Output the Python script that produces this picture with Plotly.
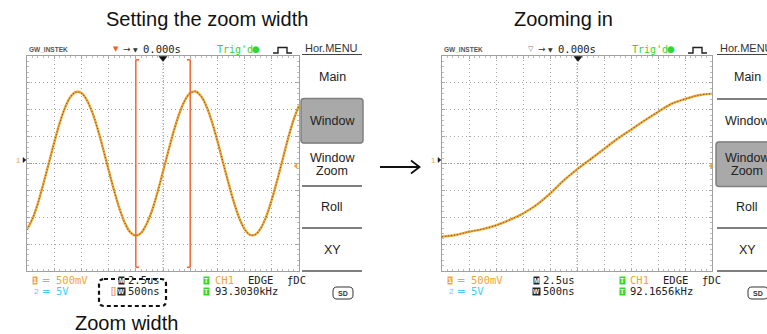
import plotly.graph_objects as go

# ---------------- data ----------------
# Main (un-zoomed) acquisition: 2.5 us/div, 500 mV/div
main_t_us = [-12.5, -12.0, -11.5, -11.0, -10.5, -10.0, -9.5, -9.0, -8.5, -8.0,
             -7.5, -7.0, -6.5, -6.0, -5.5, -5.0, -4.5, -4.0, -3.5, -3.0,
             -2.5, -2.0, -1.5, -1.0, -0.5, 0.0, 0.5, 1.0, 1.5, 2.0,
             2.5, 3.0, 3.5, 4.0, 4.5, 5.0, 5.5, 6.0, 6.5, 7.0,
             7.5, 8.0, 8.5, 9.0, 9.5, 10.0, 10.5, 11.0, 11.5, 12.0, 12.5]
main_v = [-1.23, -1.03, -0.74, -0.38, 0.00, 0.39, 0.75, 1.04, 1.24, 1.33,
          1.31, 1.18, 0.95, 0.64, 0.27, -0.12, -0.50, -0.84, -1.11, -1.28,
          -1.34, -1.29, -1.12, -0.87, -0.53, -0.15, 0.24, 0.61, 0.93, 1.17,
          1.31, 1.34, 1.25, 1.06, 0.77, 0.42, 0.03, -0.35, -0.71, -1.01,
          -1.22, -1.33, -1.32, -1.20, -0.98, -0.67, -0.31, 0.08, 0.47, 0.81, 1.08]

# Zoom window (500 ns/div)
zoom_t_ns = [-2500, -2250, -2000, -1750, -1500, -1250, -1000, -750, -500, -250, 0,
             250, 500, 750, 1000, 1250, 1500, 1750, 2000, 2250, 2500]
zoom_v = [-1.36, -1.33, -1.27, -1.22, -1.15, -1.05, -0.93, -0.77, -0.56, -0.32, -0.11,
          0.08, 0.27, 0.46, 0.63, 0.80, 0.96, 1.11, 1.20, 1.27, 1.30]

window_us = [-2.5, 2.5]          # zoom window bracket positions on main trace

titles = ["Setting the zoom width", "Zooming in"]
menu_items = ["Main", "Window", "Window|Zoom", "Roll", "XY"]
ch1_scale = "500mV"
ch2_scale = "5V"
main_timebase = "2.5us"
window_timebase = "500ns"
trig_source = "CH1"
freqs = ["93.3030kHz", "92.1656kHz"]
delay = "0.000s"

# ---------------- helpers ----------------
W, H = 767, 334
DX = 415  # pixel offset of the second screen


def px(x):
    return x / W


def py(y):
    return 1 - y / H


ORANGE = '#F2A533'
CYAN = '#3CCFF2'
GREEN = '#33D633'
BRACKET = '#F26D3D'
MONO = 'DejaVu Sans Mono'
SANS = 'Liberation Sans'

ann = []
shapes = []


def T(x, y, text, size=10.5, color='#222', family=MONO, xanchor='left', **kw):
    ann.append(dict(x=px(x), y=py(y), xref='paper', yref='paper', text=text,
                    showarrow=False, xanchor=xanchor, yanchor='middle',
                    font=dict(size=size, color=color, family=family), **kw))


def line(x0, y0, x1, y1, color='#555', width=1.5, dash=None):
    d = dict(type='line', xref='paper', yref='paper', x0=px(x0), y0=py(y0),
             x1=px(x1), y1=py(y1), line=dict(color=color, width=width))
    if dash:
        d['line']['dash'] = dash
    shapes.append(d)


def poly(points, fill=None, color='#000', width=1.0, close=True):
    s = 'M ' + ' L '.join(f'{px(a):.5f},{py(b):.5f}' for a, b in points)
    if close:
        s += ' Z'
    d = dict(type='path', xref='paper', yref='paper', path=s,
             line=dict(color=color, width=width))
    if fill:
        d['fillcolor'] = fill
    shapes.append(d)


def rrect(x0, y0, x1, y1, r, fill=None, color='#000', width=1.0, dash=None):
    P = lambda a, b: f'{px(a):.5f},{py(b):.5f}'
    s = (f'M {P(x0 + r, y0)} L {P(x1 - r, y0)} Q {P(x1, y0)} {P(x1, y0 + r)} '
         f'L {P(x1, y1 - r)} Q {P(x1, y1)} {P(x1 - r, y1)} '
         f'L {P(x0 + r, y1)} Q {P(x0, y1)} {P(x0, y1 - r)} '
         f'L {P(x0, y0 + r)} Q {P(x0, y0)} {P(x0 + r, y0)} Z')
    d = dict(type='path', xref='paper', yref='paper', path=s,
             line=dict(color=color, width=width))
    if fill:
        d['fillcolor'] = fill
    if dash:
        d['line']['dash'] = dash
    shapes.append(d)


def icon(x, y, letter, bg, fg='white', size=7):
    ann.append(dict(x=px(x), y=py(y), xref='paper', yref='paper', text=f'<b>{letter}</b>',
                    showarrow=False, xanchor='center', yanchor='middle', bgcolor=bg,
                    borderpad=0, font=dict(size=size, color=fg, family=SANS)))


def panel(dx, selected, freq, second):
    # header
    T(27 + dx, 49, "<b>GW<span style='color:#F08030'>_</span>INSTEK</b>", size=6.5,
      color='#555', family=SANS)
    T(116 + dx, 49, '▼' if not second else '▽', size=7,
      color='#F0602A' if not second else '#777', xanchor='center', family='DejaVu Sans')
    T(127 + dx, 49, '→', size=9, color='#333', xanchor='center', family='DejaVu Sans')
    T(135 + dx, 49, '▼', size=6, color='#333', xanchor='center', family='DejaVu Sans')
    T(141 + dx, 49, delay, size=10.5, color='#222')
    T(215 + dx, 49, "Trig'd", size=10, color=GREEN)
    T(256 + dx, 49, '●', size=9, color=GREEN, xanchor='center', family='DejaVu Sans')
    poly([(273 + dx, 53), (278 + dx, 53), (278 + dx, 47.5), (287 + dx, 47.5),
          (287 + dx, 53), (292 + dx, 53)], color='#222', width=1.4, close=False)
    T(331 + dx, 48, 'Hor.MENU', size=11, color='#333', family=SANS, xanchor='center')
    line(302 + dx, 54.5, 362 + dx, 54.5, color='#444', width=1.2)

    # menu
    bounds = [54.5, 99, 142.5, 186, 228, 271]
    for i in range(1, 6):
        line(302 + dx, bounds[i], 362 + dx, bounds[i], color='#555', width=1.6)
    y0, y1 = bounds[selected], bounds[selected + 1]
    rrect(301 + dx, y0 - 0.5, 363 + dx, y1 + 0.5, 3, fill='#A9A9A9', color='#808080', width=1.5)
    for i, name in enumerate(menu_items):
        yc = (bounds[i] + bounds[i + 1]) / 2
        parts = name.split('|')
        if len(parts) == 1:
            T(332 + dx, yc, parts[0], size=12.5, color='#222', family=SANS, xanchor='center')
        else:
            T(332 + dx, yc - 6.5, parts[0], size=12.5, color='#222', family=SANS, xanchor='center')
            T(332 + dx, yc + 6.5, parts[1], size=12.5, color='#222', family=SANS, xanchor='center')

    # screen markers
    poly([(159 + dx, 56.5), (167 + dx, 56.5), (163 + dx, 61.5)], fill='#111', color='#111', width=0.5)
    T(18.5 + dx, 160, '1', size=8, color=ORANGE, family=SANS, xanchor='center')
    poly([(23 + dx, 157.5), (26 + dx, 160), (23 + dx, 162.5)], fill='#222', color='#222', width=0.5)
    poly([(297 + dx, 163.5), (294 + dx, 166), (297 + dx, 168.5)], fill=ORANGE, color=ORANGE, width=0.5)

    # readouts
    icon(35 + dx, 280, '1', ORANGE)
    T(40 + dx, 280, '═', size=10.5, color=ORANGE)
    T(54 + dx, 280, ch1_scale, size=10.5, color=ORANGE)
    T(32 + dx, 291, '2', size=8, color=CYAN, family=SANS)
    T(40 + dx, 291, '═', size=10.5, color=CYAN)
    T(54 + dx, 291, ch2_scale, size=10.5, color=CYAN)

    icon(121.5 + dx, 280, 'M', '#222', size=6.5)
    T(126 + dx, 280, main_timebase, size=10.5, color='#222')
    if not second:
        T(108.5 + dx, 291, '[]', size=9, color=BRACKET, family=SANS)
    icon(121.5 + dx, 291, 'W', '#222', size=6.5)
    T(126 + dx, 291, window_timebase, size=10.5, color='#222')

    icon(207 + dx, 280, 'T', GREEN)
    T(213 + dx, 280, trig_source, size=10.5, color=ORANGE)
    T(246 + dx, 280, 'EDGE', size=10.5, color='#222')
    T(285 + dx, 280, 'ƒDC', size=10.5, color='#222')
    icon(207 + dx, 291, 'T', GREEN)
    T(213 + dx, 291, freq, size=10.5, color='#222')

    rrect(333 + dx, 287, 353 + dx, 299, 4, color='#333', width=1)
    T(343 + dx, 293, '<b>SD</b>', size=7, color='#333', family=SANS, xanchor='center')


panel(0, 1, freqs[0], False)
panel(DX, 2, freqs[1], True)

# dashed "zoom width" box
rrect(99, 279, 166, 306, 5, color='#111', width=2.2, dash='4px,3px')

# titles and captions
T(207, 19, titles[0], size=20, color='#111', family=SANS, xanchor='center')
T(563, 19, titles[1], size=20, color='#111', family=SANS, xanchor='center')
T(126, 323, 'Zoom width', size=20, color='#111', family=SANS, xanchor='center')

# arrow between the screens
line(380, 167, 419, 167, color='#111', width=1.8)
poly([(411, 160.5), (419.5, 167), (411, 173.5)], color='#111', width=1.8, close=False)

# zoom window brackets (data coordinates)
ytop, ybot, tick = 1.93, -1.93, 0.3
for i, xb in enumerate(window_us):
    sgn = 1 if i == 0 else -1
    for (a0, b0, a1, b1) in [(xb, ybot, xb, ytop), (xb, ytop, xb + sgn * tick, ytop),
                              (xb, ybot, xb + sgn * tick, ybot)]:
        shapes.append(dict(type='line', xref='x', yref='y', x0=a0, y0=b0, x1=a1, y1=b1,
                           line=dict(color=BRACKET, width=1.6)))

# center lines of the graticules
for xr, yr, xs, ys in [('x', 'y', (-12.5, 12.5), (-2, 2)), ('x2', 'y2', (-2500, 2500), (-2, 2))]:
    shapes.append(dict(type='line', xref=xr, yref=yr, x0=0, x1=0, y0=ys[0], y1=ys[1],
                       line=dict(color='#9A9A9A', width=1, dash='1px,2px'), layer='below'))
    shapes.append(dict(type='line', xref=xr, yref=yr, x0=xs[0], x1=xs[1], y0=0, y1=0,
                       line=dict(color='#9A9A9A', width=1, dash='1px,2px'), layer='below'))

fig = go.Figure()
for xs, ys, xa, ya in [(main_t_us, main_v, 'x', 'y'), (zoom_t_ns, zoom_v, 'x2', 'y2')]:
    fig.add_trace(go.Scatter(x=xs, y=ys, xaxis=xa, yaxis=ya, mode='lines',
                             line=dict(color='#EFA634', width=2.4, shape='spline'),
                             hoverinfo='skip'))
    fig.add_trace(go.Scatter(x=xs, y=ys, xaxis=xa, yaxis=ya, mode='lines',
                             line=dict(color='rgba(95,58,15,0.75)', width=1.1,
                                       shape='spline', dash='1px,2px'),
                             hoverinfo='skip'))

axis_common = dict(showticklabels=False, showgrid=True, griddash='1px,3px',
                   gridcolor='#A6A6A6', gridwidth=1, zeroline=False, showline=True,
                   linecolor='#A0A0A0', linewidth=1, mirror='ticks', ticks='inside',
                   ticklen=3, tickcolor='#A8A8A8', fixedrange=True)

gx0, gx1, gy0, gy1 = 27, 299, 56, 271
fig.update_layout(
    width=W, height=H, margin=dict(l=0, r=0, t=0, b=0),
    paper_bgcolor='white', plot_bgcolor='white', showlegend=False, hovermode=False,
    xaxis=dict(domain=[px(gx0), px(gx1)], range=[-12.5, 12.5], dtick=2.5, tick0=0,
               minor=dict(dtick=0.5, ticks='inside', ticklen=2, tickcolor='#BBBBBB', showgrid=False),
               anchor='y', **axis_common),
    yaxis=dict(domain=[py(gy1), py(gy0)], range=[-2, 2], dtick=0.5, tick0=0,
               minor=dict(dtick=0.1, ticks='inside', ticklen=2, tickcolor='#BBBBBB', showgrid=False),
               anchor='x', **axis_common),
    xaxis2=dict(domain=[px(gx0 + DX), px(gx1 + DX - 2)], range=[-2500, 2500], dtick=500, tick0=0,
                minor=dict(dtick=100, ticks='inside', ticklen=2, tickcolor='#BBBBBB', showgrid=False),
                anchor='y2', **axis_common),
    yaxis2=dict(domain=[py(gy1), py(gy0)], range=[-2, 2], dtick=0.5, tick0=0,
                minor=dict(dtick=0.1, ticks='inside', ticklen=2, tickcolor='#BBBBBB', showgrid=False),
                anchor='x2', **axis_common),
    annotations=ann, shapes=shapes,
)

fig.write_html("out.html", config={'displayModeBar': False},
               post_script="document.body.style.margin='0px';document.body.style.overflow='hidden';")
